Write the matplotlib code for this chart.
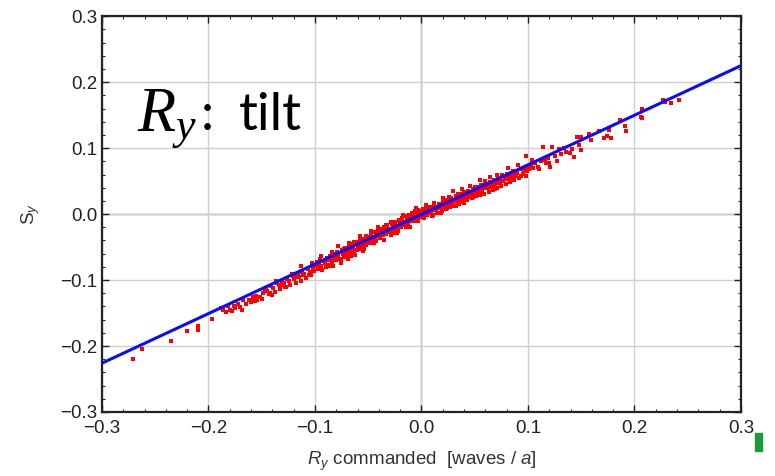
import matplotlib
matplotlib.use('Agg')
import matplotlib.pyplot as plt
from matplotlib.ticker import MultipleLocator
from matplotlib.patches import Rectangle

plt.rcParams['font.family'] = ['Liberation Sans', 'DejaVu Sans']
plt.rcParams['mathtext.fontset'] = 'custom'
plt.rcParams['mathtext.it'] = 'Liberation Serif:italic'
plt.rcParams['mathtext.rm'] = 'Liberation Sans'
plt.rcParams['mathtext.sf'] = 'Liberation Sans:italic'

# measured points (R_y commanded, S_y)
rx_left = [-0.271, -0.262, -0.235, -0.220, -0.210, -0.210, -0.197, -0.169, -0.161, -0.156,
           -0.188, -0.186, -0.184, -0.182, -0.180, -0.178, -0.176, -0.175, -0.172, -0.170,
           -0.168, -0.165, -0.162, -0.160, -0.157, -0.155, -0.152, -0.150,
           -0.158, -0.154, -0.146, -0.142, -0.137, -0.132, -0.127, -0.122, -0.119, -0.111]
sy_left = [-0.220, -0.205, -0.192, -0.177, -0.170, -0.176, -0.159, -0.145, -0.130, -0.132,
           -0.142, -0.146, -0.148, -0.140, -0.145, -0.147, -0.139, -0.143, -0.136, -0.141,
           -0.131, -0.137, -0.130, -0.133, -0.128, -0.124, -0.125, -0.128,
           -0.125, -0.131, -0.113, -0.119, -0.101, -0.108, -0.111, -0.091, -0.096, -0.093]

rx_neg = [-0.149, -0.147, -0.145, -0.143, -0.141, -0.139, -0.138, -0.136, -0.134, -0.133,
          -0.131, -0.129, -0.128, -0.126, -0.124, -0.123, -0.121, -0.120, -0.118, -0.116,
          -0.115, -0.113, -0.112, -0.110, -0.108, -0.107, -0.105, -0.104, -0.102, -0.101,
          -0.140, -0.133,
          -0.099, -0.098, -0.097, -0.096, -0.095, -0.094, -0.093, -0.092, -0.091, -0.090,
          -0.089, -0.088, -0.087, -0.086, -0.085, -0.084, -0.083, -0.082, -0.081, -0.080,
          -0.079, -0.078, -0.077, -0.076, -0.075, -0.074, -0.073, -0.072, -0.071, -0.070,
          -0.069, -0.068, -0.067, -0.066, -0.065, -0.064, -0.063, -0.062, -0.061, -0.060,
          -0.059, -0.058, -0.057, -0.056, -0.055, -0.054, -0.053, -0.052, -0.051, -0.050]
sy_neg = [-0.120, -0.113, -0.116, -0.121, -0.109, -0.112, -0.118, -0.104, -0.108, -0.114,
          -0.101, -0.105, -0.110, -0.098, -0.102, -0.108, -0.094, -0.099, -0.104, -0.092,
          -0.096, -0.101, -0.088, -0.091, -0.097, -0.083, -0.088, -0.093, -0.081, -0.086,
          -0.123, -0.114,
          -0.079, -0.072, -0.083, -0.075, -0.068, -0.078, -0.085, -0.071, -0.074, -0.080,
          -0.066, -0.070, -0.077, -0.063, -0.068, -0.073, -0.079, -0.061, -0.066, -0.070,
          -0.058, -0.064, -0.068, -0.074, -0.055, -0.060, -0.065, -0.052, -0.057, -0.062,
          -0.068, -0.049, -0.054, -0.059, -0.046, -0.051, -0.056, -0.062, -0.043, -0.048,
          -0.053, -0.040, -0.045, -0.050, -0.056, -0.038, -0.043, -0.047, -0.035, -0.041]

rx_mid = [-0.049, -0.048, -0.047, -0.046, -0.045, -0.044, -0.043, -0.042, -0.041, -0.040,
          -0.039, -0.038, -0.037, -0.036, -0.035, -0.034, -0.033, -0.032, -0.031, -0.030,
          -0.029, -0.028, -0.027, -0.026, -0.025, -0.024, -0.023, -0.022, -0.021, -0.020,
          -0.019, -0.018, -0.017, -0.016, -0.015, -0.014, -0.013, -0.012, -0.011, -0.010,
          -0.009, -0.008, -0.007, -0.006, -0.005, -0.004, -0.003, -0.002, -0.001, 0.000,
          0.001, 0.002, 0.003, 0.004, 0.005, 0.006, 0.007, 0.008, 0.009, 0.010,
          0.011, 0.012, 0.013, 0.014, 0.015, 0.016, 0.017, 0.018, 0.019, 0.020,
          0.021, 0.022, 0.023, 0.024, 0.025, 0.026, 0.027, 0.028, 0.029, 0.030,
          0.031, 0.032, 0.033, 0.034, 0.035, 0.036, 0.037, 0.038, 0.039, 0.040,
          0.041, 0.042, 0.043, 0.044, 0.045, 0.046, 0.047, 0.048, 0.049, 0.050]
sy_mid = [-0.036, -0.044, -0.031, -0.038, -0.027, -0.034, -0.041, -0.029, -0.024, -0.033,
          -0.037, -0.022, -0.028, -0.032, -0.019, -0.025, -0.030, -0.017, -0.022, -0.027,
          -0.031, -0.015, -0.020, -0.024, -0.012, -0.018, -0.022, -0.026, -0.010, -0.015,
          -0.019, -0.006, -0.012, -0.016, -0.003, -0.009, -0.013, -0.002, -0.007, -0.011,
          0.002, -0.004, -0.009, 0.004, -0.002, -0.007, 0.006, 0.000, -0.005, 0.003,
          0.008, -0.003, 0.004, 0.010, -0.001, 0.006, 0.001, 0.011, 0.004, 0.008,
          -0.002, 0.013, 0.006, 0.010, 0.002, 0.016, 0.009, 0.013, 0.005, 0.018,
          0.011, 0.015, 0.008, 0.021, 0.014, 0.018, 0.010, 0.024, 0.016, 0.020,
          0.012, 0.027, 0.019, 0.023, 0.015, 0.030, 0.022, 0.026, 0.018, 0.033,
          0.025, 0.029, 0.021, 0.035, 0.028, 0.032, 0.024, 0.038, 0.030, 0.034]

# second pass over the dense band, looser scatter
rx_band = [-0.117, -0.113, -0.106, -0.103, -0.097, -0.094, -0.091, -0.087, -0.084, -0.081,
           -0.078, -0.076, -0.073, -0.070, -0.068, -0.066, -0.063, -0.061, -0.058, -0.056,
           -0.054, -0.052, -0.049, -0.047, -0.045, -0.043, -0.041, -0.039, -0.037, -0.035,
           -0.033, -0.031, -0.029, -0.027, -0.025, -0.023, -0.021, -0.019, -0.017, -0.015,
           -0.013, -0.011, -0.009, -0.007, -0.005, -0.003, -0.001, 0.002, 0.004, 0.006,
           0.008, 0.010, 0.012, 0.014, 0.016, 0.018, 0.020, 0.022, 0.024, 0.026,
           0.028, 0.030, 0.032, 0.034, 0.036, 0.038, 0.040, 0.042, 0.044, 0.046,
           0.048, 0.050, 0.053, 0.055, 0.057, 0.060, 0.062, 0.064, 0.067, 0.069,
           0.071, 0.074, 0.076, 0.078, 0.081, 0.083, 0.086, 0.088, 0.091, 0.093,
           0.096, 0.099, 0.104, 0.109, 0.115, 0.120]
sy_band = [-0.092, -0.079, -0.093, -0.074, -0.082, -0.063, -0.070, -0.079, -0.058, -0.068,
           -0.049, -0.068, -0.053, -0.058, -0.044, -0.063, -0.043, -0.054, -0.033, -0.045,
           -0.053, -0.033, -0.043, -0.026, -0.044, -0.031, -0.019, -0.036, -0.023, -0.039,
           -0.017, -0.025, -0.012, -0.029, -0.016, -0.028, -0.009, -0.018, -0.002, -0.019,
           -0.006, -0.020, 0.002, -0.010, 0.009, -0.011, 0.005, -0.006, 0.014, 0.002,
           0.011, -0.003, 0.017, 0.006, 0.014, 0.002, 0.025, 0.015, 0.009, 0.026,
           0.015, 0.035, 0.013, 0.030, 0.023, 0.038, 0.017, 0.033, 0.026, 0.042,
           0.026, 0.041, 0.036, 0.051, 0.031, 0.050, 0.039, 0.056, 0.047, 0.038,
           0.059, 0.047, 0.059, 0.053, 0.070, 0.051, 0.066, 0.061, 0.075, 0.057,
           0.070, 0.066, 0.082, 0.072, 0.083, 0.078]

rx_pos = [0.051, 0.052, 0.053, 0.054, 0.055, 0.056, 0.057, 0.058, 0.059, 0.060,
          0.061, 0.062, 0.063, 0.064, 0.065, 0.066, 0.067, 0.068, 0.069, 0.070,
          0.071, 0.072, 0.073, 0.074, 0.075, 0.076, 0.077, 0.078, 0.079, 0.080,
          0.081, 0.082, 0.083, 0.084, 0.085, 0.086, 0.087, 0.088, 0.089, 0.090,
          0.092, 0.093, 0.095, 0.096, 0.098, 0.099,
          0.098, 0.101, 0.103, 0.105, 0.107, 0.110, 0.112, 0.114, 0.116, 0.117,
          0.119, 0.121, 0.123, 0.125, 0.127, 0.129, 0.131, 0.134, 0.136, 0.139,
          0.141, 0.143, 0.146, 0.148, 0.150, 0.150]
sy_pos = [0.027, 0.041, 0.033, 0.037, 0.029, 0.044, 0.036, 0.040, 0.031, 0.047,
          0.039, 0.043, 0.034, 0.049, 0.041, 0.046, 0.037, 0.052, 0.044, 0.048,
          0.040, 0.055, 0.047, 0.051, 0.043, 0.058, 0.050, 0.054, 0.046, 0.061,
          0.053, 0.057, 0.049, 0.063, 0.056, 0.060, 0.052, 0.066, 0.058, 0.062,
          0.055, 0.069, 0.061, 0.065, 0.058, 0.072,
          0.088, 0.068, 0.075, 0.070, 0.077, 0.069, 0.080, 0.101, 0.082, 0.078,
          0.085, 0.072, 0.102, 0.088, 0.080, 0.099, 0.091, 0.100, 0.094, 0.092,
          0.098, 0.087, 0.117, 0.104, 0.117, 0.097]

rx_right = [0.157, 0.159, 0.167, 0.171, 0.174, 0.176, 0.178, 0.186, 0.191, 0.192,
            0.206, 0.207, 0.207, 0.227, 0.229, 0.234, 0.2415]
sy_right = [0.122, 0.112, 0.126, 0.115, 0.118, 0.128, 0.116, 0.142, 0.133, 0.126,
            0.147, 0.160, 0.146, 0.173, 0.170, 0.168, 0.173]

# fitted line
fit_x = [-0.3, 0.3]
fit_y = [-0.226, 0.225]

rx = rx_left + rx_neg + rx_mid + rx_band + rx_pos + rx_right
sy = sy_left + sy_neg + sy_mid + sy_band + sy_pos + sy_right
assert len(rx) == len(sy)

fig = plt.figure(figsize=(7.75, 4.76), dpi=100)
ax = fig.add_axes([0.1316, 0.1345, 0.8245, 0.8315])

ax.plot(rx, sy, 's', color='red', ms=2.3, mew=0, zorder=3)
ax.plot(fit_x, fit_y, '-', color='#0a0aff', lw=2.2, zorder=4)

ax.set_xlim(-0.3, 0.3)
ax.set_ylim(-0.3, 0.3)
ax.xaxis.set_major_locator(MultipleLocator(0.1))
ax.yaxis.set_major_locator(MultipleLocator(0.1))
ax.xaxis.set_minor_locator(MultipleLocator(0.02))
ax.yaxis.set_minor_locator(MultipleLocator(0.02))
ax.xaxis.set_major_formatter(lambda v, p: ('%.1f' % v).replace('-', '\u2212'))
ax.yaxis.set_major_formatter(lambda v, p: ('%.1f' % v).replace('-', '\u2212'))

ax.grid(True, which='major', color='#cfcfcf', lw=1.0, zorder=0)
ax.axhline(0, color='#909090', lw=1.0, zorder=1)
ax.axvline(0, color='#909090', lw=1.0, zorder=1)

ax.tick_params(which='both', direction='in', top=True, right=True, labelsize=13.5, colors='#222222')
ax.tick_params(which='major', length=5, width=1)
ax.tick_params(which='minor', length=2.5, width=0.8)
ax.tick_params(axis='x', which='major', pad=6)
for s in ax.spines.values():
    s.set_linewidth(1.6)
    s.set_color('#222222')

ax.set_xlabel(r'$\mathsf{R_y}$ commanded  [waves / $\mathsf{a}$]', fontsize=13.5, color='#333333', labelpad=9)
ax.set_ylabel(r'$\mathrm{S}_\mathsf{y}$', fontsize=13.5, color='#333333', labelpad=13)

# big annotation, R_y in serif italic, ": tilt" in sans
ax.text(-0.267, 0.127, r'$R_y$', fontsize=45, color='black', zorder=5)
ax.text(-0.207, 0.127, ':', fontsize=38, color='black', family=['Lato', 'DejaVu Sans'], zorder=5)
ax.text(-0.171, 0.127, 'tilt', fontsize=38, color='black', family=['Lato', 'DejaVu Sans'], zorder=5)

fig.patches.append(Rectangle((755 / 775, 1 - 451 / 476), 7 / 775, 18 / 476,
                             transform=fig.transFigure, color='#1a9a3a', zorder=10))

fig.savefig('out.png', dpi=100)
